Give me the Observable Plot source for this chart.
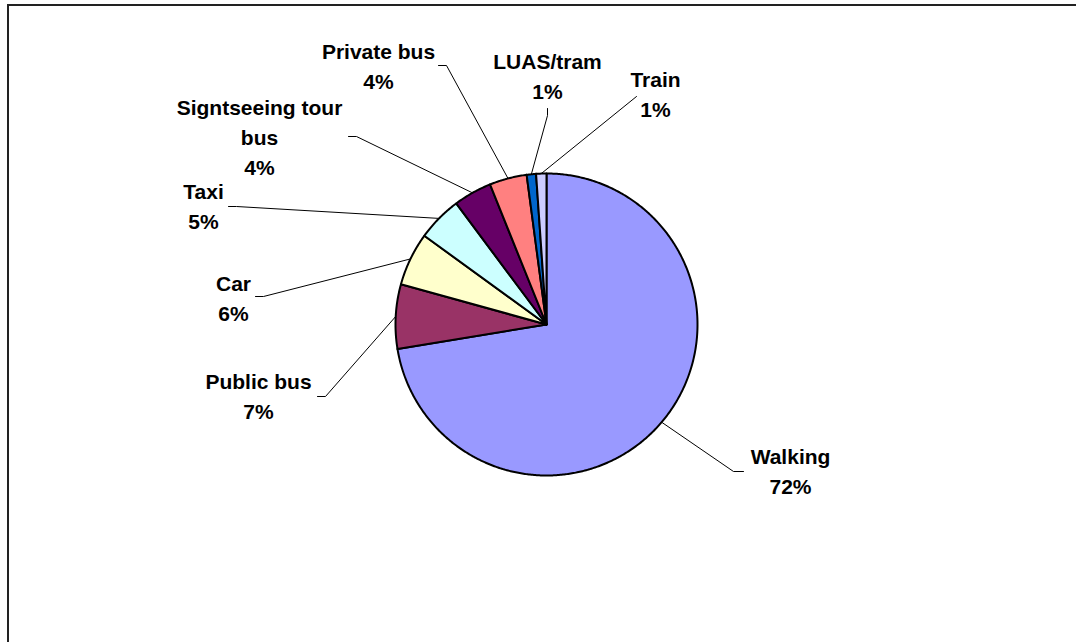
<!DOCTYPE html>
<html>
<head>
<meta charset="utf-8">
<script src="https://cdn.jsdelivr.net/npm/d3@7"></script>
<script src="https://cdn.jsdelivr.net/npm/@observablehq/plot@0.6"></script>
<style>
  html, body { margin: 0; padding: 0; background: #fff; overflow: hidden; }
  #wrap { position: relative; width: 1076px; height: 642px; overflow: hidden; }
  #border { position: absolute; left: 7px; top: 4px; width: 1100px; height: 700px;
            border: 2px solid #222; box-sizing: border-box; pointer-events: none; }
</style>
</head>
<body>
<div id="wrap"><div id="chart"></div><div id="border"></div></div>
<script>
// ---- data ----
const categories = ["Walking", "Public bus", "Car", "Taxi", "Signtseeing tour bus", "Private bus", "LUAS/tram", "Train"];
const shares     = [72.4, 6.9, 5.7, 4.8, 4.1, 4.0, 1.0, 1.1];
const labelNames = ["Walking", "Public bus", "Car", "Taxi", "Signtseeing tour\nbus", "Private bus", "LUAS/tram", "Train"];
const colors     = ["#9999FF", "#993366", "#FFFFCC", "#CCFFFF", "#660066", "#FF8080", "#0066CC", "#CCCCFF"];

// ---- layout (pixels) ----
const W = 1076, H = 642;
const CX = 546, CY = 324, R = 151;
const labelLayout = [
  {x: 790, y: 469, side: "left",   ax: 743, ay: 471},
  {x: 258, y: 394, side: "right",  ax: 317, ay: 396},
  {x: 233, y: 296, side: "right",  ax: 255, ay: 296},
  {x: 203, y: 204, side: "right",  ax: 228, ay: 206},
  {x: 259, y: 135, side: "right",  ax: 348, ay: 136},
  {x: 378, y: 63.5, side: "right", ax: 438, ay: 65},
  {x: 547, y: 74,  side: "bottom", ax: 547, ay: 108},
  {x: 655, y: 92,  side: "none",   ax: 636, ay: 96}
];

const total = d3.sum(shares);
const pct = shares.map(v => Math.round(v / total * 100) + "%");

// slice angles, clockwise from 12 o'clock
let acc = 0;
const slices = categories.map((c, i) => {
  const a0 = acc / total * 2 * Math.PI;
  acc += shares[i];
  const a1 = acc / total * 2 * Math.PI;
  return {cat: c, a0, a1, mid: (a0 + a1) / 2};
});
const pt = (a, r) => [CX + r * Math.sin(a), CY - r * Math.cos(a)];

const slicePts = [];
slices.forEach(s => {
  const n = Math.max(2, Math.ceil((s.a1 - s.a0) / (Math.PI / 360)));
  slicePts.push({cat: s.cat, x: CX, y: CY});
  for (let k = 0; k <= n; k++) {
    const [x, y] = pt(s.a0 + (s.a1 - s.a0) * k / n, R);
    slicePts.push({cat: s.cat, x, y});
  }
  slicePts.push({cat: s.cat, x: CX, y: CY});
});

const leaderPts = [];
slices.forEach((s, i) => {
  const L = labelLayout[i];
  leaderPts.push({cat: s.cat, x: L.ax, y: L.ay});
  if (L.side === "left") leaderPts.push({cat: s.cat, x: L.ax - 10, y: L.ay});
  if (L.side === "right") leaderPts.push({cat: s.cat, x: L.ax + 8, y: L.ay});
  if (L.side === "bottom") leaderPts.push({cat: s.cat, x: L.ax, y: L.ay + 7});
  const [x, y] = pt(s.mid, R);
  leaderPts.push({cat: s.cat, x, y});
});

const labels = categories.map((c, i) => ({
  cat: c, x: labelLayout[i].x, y: labelLayout[i].y, text: labelNames[i] + "\n" + pct[i]
}));

const chart = Plot.plot({
  width: W, height: H,
  margin: 0,
  x: {domain: [0, W], range: [0, W], axis: null},
  y: {domain: [0, H], range: [0, H], axis: null},
  color: {domain: categories, range: colors},
  style: {background: "white"},
  marks: [
    Plot.line(leaderPts, {x: "x", y: "y", z: "cat", stroke: "#000", strokeWidth: 1, curve: "linear"}),
    Plot.line(slicePts, {x: "x", y: "y", z: "cat", fill: "cat", stroke: "#000", strokeWidth: 2,
                         strokeLinejoin: "round", curve: "linear"}),
    Plot.text(labels, {x: "x", y: "y", text: "text", fontSize: 21, fontWeight: "bold",
                       fontFamily: "Liberation Sans, Arial, sans-serif", fill: "#000",
                       lineHeight: 1.43, textAnchor: "middle"})
  ]
});
document.getElementById("chart").appendChild(chart);
</script>
</body>
</html>
